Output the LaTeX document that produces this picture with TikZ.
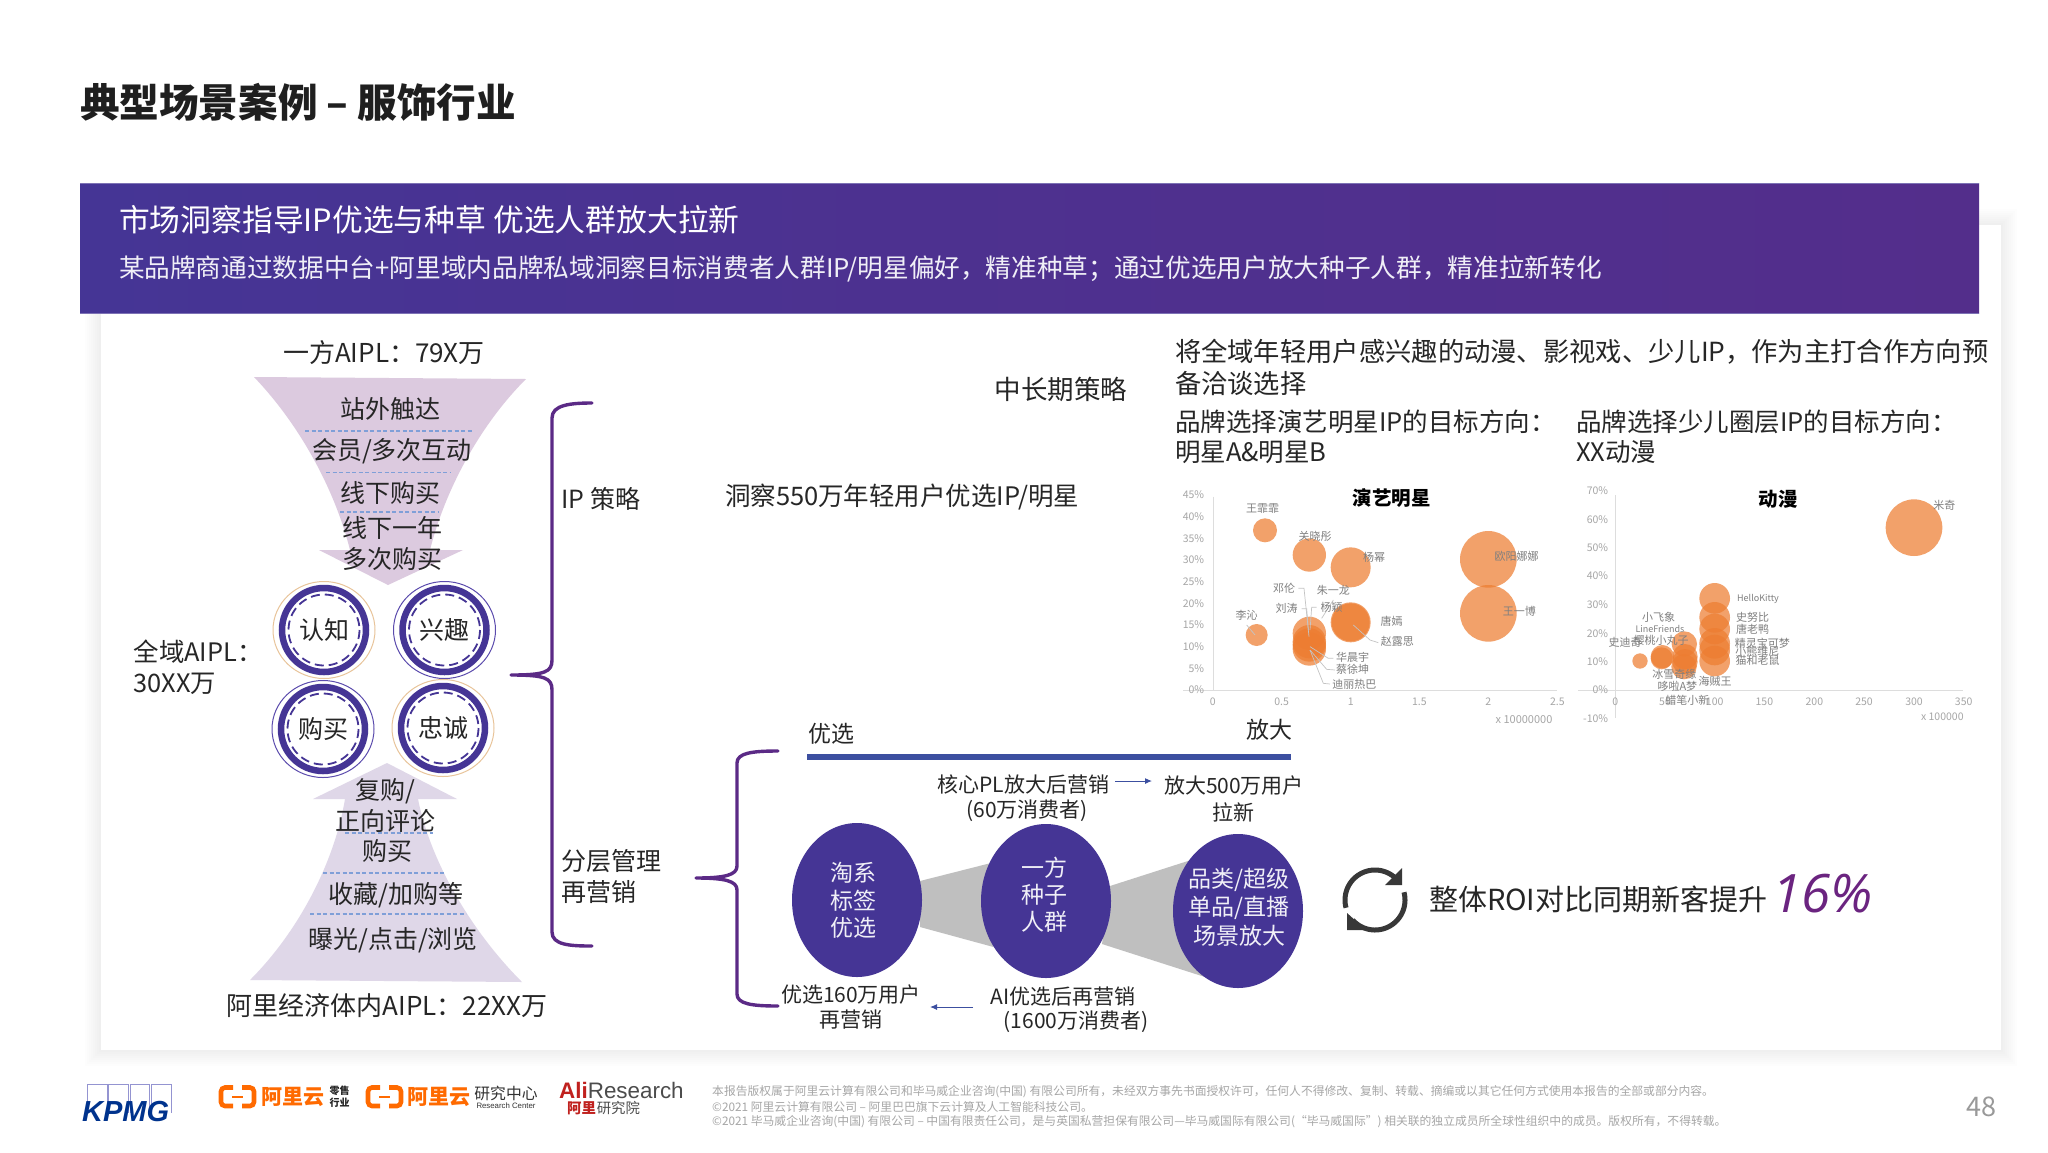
\documentclass[tikz,border=0pt]{standalone}
\usepackage{fontspec}
\setmainfont{Noto Sans CJK SC}
\newfontfamily\numfont{Open Sans}
\newfontfamily\libfont{Liberation Sans}
\usetikzlibrary{arrows.meta,shapes.geometric}
\newcommand\fs[1]{\fontsize{#1}{#1}\selectfont}
\definecolor{ink}{HTML}{262626}
\definecolor{indigo}{HTML}{453595}
\definecolor{bracep}{HTML}{5B2A86}
\definecolor{barblue}{HTML}{3C4FA0}
\definecolor{topf}{HTML}{DCCADF}
\definecolor{botf}{HTML}{DFD7E8}
\definecolor{dashb}{HTML}{7F9FD8}
\definecolor{peach}{HTML}{E8C49A}
\definecolor{ringp}{HTML}{5B4BAD}
\definecolor{bub}{HTML}{ED7D31}
\definecolor{orng}{HTML}{FF6A00}
\definecolor{tickg}{HTML}{A6A6A6}
\definecolor{labg}{HTML}{7F7F7F}
\definecolor{axg}{HTML}{DDDDDD}
\definecolor{leadg}{HTML}{C4C4C4}
\tikzset{
  txt/.style={inner sep=0pt,outer sep=0pt,text=ink,font=\fs{25}},
  txtw/.style={txt,anchor=west},
  ftxt/.style={txt,font=\fs{25},text=black!85},
  lowtxt/.style={txt,font=\fs{21}},
  elltxt/.style={txt,font=\fs{23},text=white!92!indigo},
  brc/.style={draw=bracep,line width=3.4pt,line cap=round,line join=round},
  dashline/.style={draw=dashb,line width=1.2pt,dash pattern=on 4pt off 2.5pt},
  thin arrow/.style={draw=barblue,line width=1pt,-{Latex[length=7pt,width=6pt]}},
  ball/.style={ellipse,fill=indigo,minimum width=130pt,minimum height=154pt,inner sep=0pt},
  lbl/.style={inner sep=0pt,text=labg,font=\fs{11}},
  lbln/.style={lbl,font=\fs{9}},
  tick/.style={inner sep=0pt,text=tickg,font=\fs{10.5}},
  bubble/.style={fill=bub,fill opacity=.72},
  lead/.style={draw=leadg,line width=.7pt},
  chaxis/.style={draw=axg,line width=1pt},
  foot/.style={inner sep=0pt,anchor=west,text=tickg,font=\fs{11.8}},
  outerp/.style={draw=ringp,line width=1pt,fill=white,ellipse,minimum width=102pt,minimum height=97pt,inner sep=0pt},
  outerq/.style={draw=peach,line width=1pt,fill=white,ellipse,minimum width=102pt,minimum height=97pt,inner sep=0pt},
}
\newcommand\ring[4]{% x y name text
  \node[#3] (r#4) at (#1,#2) {};
  \draw[indigo,line width=6.5pt] (#1,#2) circle[radius=42];
  \draw[indigo,line width=1.8pt,dash pattern=on 9pt off 5pt] (#1,#2) circle[radius=35.5];
  \node[txt,font=\fs{25}] (t#4) at (#1,#2) {#4};
}
\newcommand\aliicon[1]{%
  \begin{scope}[xshift=#1pt,orng,line width=4.6pt,rounded corners=4pt]
    \draw (233,1087.5) -- (221,1087.5) -- (221,1106) -- (233,1106);
    \draw (242,1087.5) -- (254,1087.5) -- (254,1106) -- (242,1106);
    \draw[line width=2.4pt,rounded corners=0pt] (232,1097) -- (243,1097);
  \end{scope}
}
\begin{document}
\begin{tikzpicture}[x=1pt,y=-1pt]
\useasboundingbox (0,0) rectangle (2048,1152);
\fill[white] (0,0) rectangle (2048,1152);
% card with shadow
\foreach \e in {16,14,...,2} \fill[black,opacity=.009] ({101-\e},{225-\e}) rectangle ({2001+\e},{1050+\e});
\fill[white] (101,225) rectangle (2001,1050);
% banner
\fill[left color=indigo,right color=indigo!35!bracep,middle color=indigo!60!bracep] (80,183) rectangle (1979,313);
\draw[indigo!70!white,line width=1pt] (80,183) -- (1979,183) (80,313) -- (1979,313);
\node[txtw,font=\fs{39.6}\bfseries,text=black!88] (title) at (80,102) {典型场景案例 – 服饰行业};
\node[txtw,font=\fs{30.8},text=white] (bh) at (119,220) {市场洞察指导IP优选与种草 优选人群放大拉新};
\node[txtw,font=\fs{25.66},text=white!92!indigo] (bs) at (119,269) {某品牌商通过数据中台+阿里域内品牌私域洞察目标消费者人群IP/明星偏好，精准种草；通过优选用户放大种子人群，精准拉新转化};
% funnels
\fill[topf] (254,377) -- (526,379) .. controls (480,425) and (445,490) .. (430,550) -- (463,550) -- (388,585) -- (319,550) -- (350,550) .. controls (335,490) and (300,425) .. (254,377) -- cycle;
\fill[botf] (387,763) -- (457,799) -- (418,799) .. controls (430,860) and (470,930) .. (522,982) -- (250,980) .. controls (300,930) and (335,860) .. (345,799) -- (313,799) -- cycle;
\draw[dashline] (305,431) -- (473,431);
\draw[dashline] (326,472.6) -- (451,472.6);
\draw[dashline] (340,512) -- (438,512);
\draw[dashline] (345,833) -- (433,833);
\draw[dashline] (323,873) -- (444,873);
\draw[dashline] (310,914) -- (466,914);
\node[txt,font=\fs{26}] (aiplA) at (384,353) {一方AIPL：79X万};
\node[ftxt] (f1) at (390,409) {站外触达};
\node[ftxt] (f2) at (392,451) {会员/多次互动};
\node[ftxt] (f3) at (390,493) {线下购买};
\node[ftxt] (f4) at (392,528) {线下一年};
\node[ftxt] (f5) at (392,559) {多次购买};
\node[ftxt] (g1) at (385,791) {复购/};
\node[ftxt] (g2) at (385,821) {正向评论};
\node[ftxt] (g3) at (387,851) {购买};
\node[ftxt] (g4) at (396,895) {收藏/加购等};
\node[ftxt] (g5) at (393,940) {曝光/点击/浏览};
\node[txt,font=\fs{26}] (aiplC) at (387,1006) {阿里经济体内AIPL：22XX万};
\node[txtw,font=\fs{25.4}] (aiplB1) at (133.6,652) {全域AIPL：};
\node[txtw,font=\fs{25.4}] (aiplB2) at (133.6,684) {30XX万};
% rings
\ring{324}{630}{outerq}{认知}
\ring{444.5}{630}{outerp}{兴趣}
\ring{323}{729}{outerp}{购买}
\ring{443}{728}{outerq}{忠诚}
% braces
\draw[brc] (592,403) .. controls (570,403) and (552,405) .. (552,418) -- (552,660) .. controls (552,672) and (545,675) .. (511,675) .. controls (545,675) and (552,678) .. (552,690) -- (552,932) .. controls (552,945) and (570,946) .. (592,946);
\draw[brc] (778,751) .. controls (752,751) and (737,753) .. (737,763) -- (737,866) .. controls (737,875) and (725,878) .. (696,878) .. controls (725,878) and (737,881) .. (737,890) -- (737,994) .. controls (737,1004) and (752,1006) .. (778,1006);
\node[txtw] (ip) at (561.6,499) {IP 策略};
\node[txtw] (fc1) at (561.6,861) {分层管理};
\node[txtw] (fc2) at (561.6,892) {再营销};
\node[txtw,font=\fs{25.5}] (ins) at (725,497) {洞察550万年轻用户优选IP/明星};
\node[txt,anchor=east,font=\fs{26.5}] (mid) at (1127,389) {中长期策略};
\node[txtw,font=\fs{26.3}] (r1) at (1175,352) {将全域年轻用户感兴趣的动漫、影视戏、少儿IP，作为主打合作方向预};
\node[txtw,font=\fs{26.3}] (r2) at (1175,383) {备洽谈选择};
\node[txtw,font=\fs{25.5}] (s1) at (1175,422) {品牌选择演艺明星IP的目标方向：};
\node[txtw,font=\fs{25.5}] (s2) at (1175,452) {明星A\&明星B};
\node[txtw,font=\fs{25.5}] (s3) at (1576,422) {品牌选择少儿圈层IP的目标方向：};
\node[txtw,font=\fs{25.5}] (s4) at (1576,452) {XX动漫};
% chart 1
\begin{scope}[shift={(1160,470)},x=0.33333pt,y=-0.33333pt]
  \draw[chaxis] (160,80) -- (160,660);
  \draw[chaxis] (70,660) -- (1190,660);
  \foreach \y/\t [count=\i] in {660/0\%,595/5\%,530/10\%,465/15\%,400/20\%,335/25\%,270/30\%,205/35\%,140/40\%,75/45\%}
    \node[tick,anchor=east] (ay\i) at (133,\y) {\t};
  \foreach \x/\t [count=\i] in {158/0,365/0.5,572/1,778/1.5,985/2,1192/2.5}
    \node[tick] (ax\i) at (\x,695) {\t};
  \node[tick,font=\fs{11}] (aunit) at (1092,748) {x 10000000};
  \foreach \x/\y/\r in {315/181/36,448/255/50,572/292/60,985/268/85,985/430/85,290/495/33,572/457/60,572/457/57,448/490/50,448/515/50,448/525/50,448/537/50}
    \fill[bubble] (\x,\y) circle[radius=\r];
  \draw[lead] (415,355) -- (432,355) -- (447,500);
  \draw[lead] (425,416) -- (440,416) -- (445,480);
  \draw[lead] (470,412) -- (455,412) -- (450,480);
  \draw[lead] (520,390) -- (485,445);
  \draw[lead] (520,565) -- (505,565) -- (450,530);
  \draw[lead] (525,600) -- (500,598) -- (450,540);
  \draw[lead] (510,642) -- (490,640) -- (450,540);
  \draw[lead] (655,518) -- (630,510) -- (580,465);
  \draw[lead] (260,465) -- (285,495);
  \foreach \x/\y/\t [count=\i] in {308/117/王霏霏,465/200/关晓彤,642/262/杨幂,1070/259/欧阳娜娜,1078/423/王一博,372/355/邓伦,520/362/朱一龙,380/416/刘涛,515/412/杨颖,260/435/李沁,695/455/唐嫣,712/515/赵露思,578/563/华晨宇,578/598/蔡徐坤,583/642/迪丽热巴}
    \node[lbl] (la\i) at (\x,\y) {\t};
  \node[inner sep=0pt,text=black,font=\fs{19.5}\bfseries] (ct1) at (695,85) {演艺明星};
\end{scope}
% chart 2
\begin{scope}[shift={(1570,470)},x=0.33333pt,y=-0.33333pt]
  \draw[chaxis] (136,75) -- (136,745);
  \draw[chaxis] (25,660) -- (1180,660);
  \foreach \y/\t [count=\i] in {63/70\%,148/60\%,233/50\%,318/40\%,405/30\%,490/20\%,575/10\%,660/0\%,746/-10\%}
    \node[tick,anchor=east] (by\i) at (115,\y) {\t};
  \foreach \x/\t [count=\i] in {136/0,285/50,434/100,583/150,733/200,882/250,1032/300,1181/350}
    \node[tick] (bx\i) at (\x,695) {\t};
  \node[tick] (bunit) at (1117,740) {x 100000};
  \foreach \x/\y/\r in {1032/173/85,434/385/46,434/442/46,434/477/46,434/520/46,434/540/46,434/573/46,210/573/23,277/560/35,275/565/33,343/522/38,345/560/38,345/575/38,342/590/38}
    \fill[bubble] (\x,\y) circle[radius=\r];
  \foreach \x/\y/\t [count=\i] in {1123/105/米奇,548/442/史努比,548/477/唐老鸭,577/520/精灵宝可梦,562/543/小熊维尼,563/572/猫和老鼠,435/633/海贼王,313/613/冰雪奇缘,322/648/哆啦A梦,352/690/蜡笔小新,165/517/史迪奇,273/510/樱桃小丸子,266/442/小飞象}
    \node[lbl] (lb\i) at (\x,\y) {\t};
  \node[lbln] (lbh) at (564,387) {HelloKitty};
  \node[lbln] (lbl) at (270,478) {LineFriends};
  \node[inner sep=0pt,text=black,font=\fs{19.5}\bfseries] (ct2) at (625,87) {动漫};
\end{scope}
% lower section
\fill[barblue] (807,753.7) rectangle (1291,760.3);
\node[txt,font=\fs{23}] (yx) at (831,734) {优选};
\node[txt,font=\fs{23}] (fd) at (1269,730) {放大};
\node[lowtxt] (cpl1) at (1023.5,784) {核心PL放大后营销};
\node[lowtxt] (cpl2) at (1027,811) {(60万消费者)};
\node[lowtxt] (amp1) at (1234,786) {放大500万用户};
\node[lowtxt] (amp2) at (1233,812) {拉新};
\coordinate (ua) at (1115,781);
\coordinate (ub) at (1152,781);
\draw[thin arrow] (ua) -- (ub);
\fill[black!25] (920,881) -- (991,863) -- (993.5,947) -- (920,927) -- cycle;
\fill[black!25] (1110,886) -- (1191,860) -- (1208,978) -- (1102,944) -- cycle;
\node[ball] (e1) at (857,900) {};
\node[ball] (e2) at (1046,901) {};
\node[ball] (e3) at (1238,911) {};
\node[elltxt] (e1a) at (853,873) {淘系};
\node[elltxt] (e1b) at (853,901) {标签};
\node[elltxt] (e1c) at (853,928) {优选};
\node[elltxt] (e2a) at (1044.5,868) {一方};
\node[elltxt] (e2b) at (1044.5,895) {种子};
\node[elltxt] (e2c) at (1044.5,922) {人群};
\node[elltxt] (e3a) at (1239,880) {品类/超级};
\node[elltxt] (e3b) at (1239,908) {单品/直播};
\node[elltxt] (e3c) at (1239,936) {场景放大};
\node[lowtxt] (pick1) at (851,995) {优选160万用户};
\node[lowtxt] (pick2) at (851,1020) {再营销};
\node[lowtxt] (ai1) at (1063,997) {AI优选后再营销};
\node[lowtxt] (ai2) at (1076,1022) {(1600万消费者)};
\coordinate (va) at (973,1007);
\coordinate (vb) at (930,1007);
\draw[thin arrow] (va) -- (vb);
% refresh icon
\draw[black!78,line width=5pt] plot[domain=195:42,samples=40] ({1375+30*cos(\x)},{900-30*sin(\x)});
\draw[black!78,line width=5pt] plot[domain=15:-138,samples=40] ({1375+30*cos(\x)},{900-30*sin(\x)});
\fill[black!78] (1402,868) -- (1402,885) -- (1385,885) -- cycle;
\fill[black!78] (1347,913) -- (1347,930) -- (1366,930) -- cycle;
\node[txtw,font=\fs{29}] (roi) at (1429,899) {整体ROI对比同期新客提升};
\node[txtw,font=\numfont\itshape\fs{53},text={rgb,255:red,107;green,36;blue,128}] (pct) at (1772,894) {16\%};
% logos
\foreach \a/\b in {87.4/107,108.4/128,130/149.6,151.7/171.5}
  \draw[blue!40!gray!60!white,line width=1pt] (\a,1113) -- (\a,1084) -- (\b,1084) -- (\b,1113);
\node[inner sep=0pt,anchor=west,text={rgb,255:red,0;green,51;blue,141},font=\libfont\bfseries\itshape\fs{29}] (kpmg) at (82,1111) {KPMG};
\aliicon{0}
\aliicon{147}
\node[inner sep=0pt,anchor=west,text=orng,font=\fs{21}\bfseries] (al1) at (261,1097) {阿里云};
\node[inner sep=0pt,text=black!85,font=\fs{10}\bfseries] (al1a) at (339.5,1090.7) {零售};
\node[inner sep=0pt,text=black!85,font=\fs{10}\bfseries] (al1b) at (339.5,1103) {行业};
\node[inner sep=0pt,anchor=west,text=orng,font=\fs{21}\bfseries] (al2) at (407,1097) {阿里云};
\node[inner sep=0pt,text=black!80,font=\fs{15.8}] (al2a) at (506,1093) {研究中心};
\node[inner sep=0pt,text=black!80,font=\libfont\fs{7.8}] (al2b) at (506,1105.7) {Research Center};
\node[inner sep=0pt,anchor=west,font=\libfont\fs{22.4}] (alr) at (559,1090) {\textcolor[HTML]{C0211E}{\bfseries Ali}\textcolor{black!70}{Research}};
\node[inner sep=0pt,anchor=west,text={rgb,255:red,192;green,33;blue,30},font=\fs{14.4}\bfseries] (alr1) at (567,1108) {阿里};
\node[inner sep=0pt,anchor=west,text=black!70,font=\fs{14.4}] (alr2) at (596.6,1108) {研究院};
\node[foot] (n1) at (712,1092) {本报告版权属于阿里云计算有限公司和毕马威企业咨询(中国) 有限公司所有，未经双方事先书面授权许可，任何人不得修改、复制、转载、摘编或以其它任何方式使用本报告的全部或部分内容。};
\node[foot] (n2) at (712,1107) {©2021 阿里云计算有限公司 – 阿里巴巴旗下云计算及人工智能科技公司。};
\node[foot] (n3) at (712,1122) {©2021 毕马威企业咨询(中国) 有限公司 – 中国有限责任公司，是与英国私营担保有限公司—毕马威国际有限公司(“毕马威国际”) 相关联的独立成员所全球性组织中的成员。版权所有，不得转载。};
\node[inner sep=0pt,text=black!40,font=\fs{27}] (page) at (1981,1107) {48};
\end{tikzpicture}
\end{document}
